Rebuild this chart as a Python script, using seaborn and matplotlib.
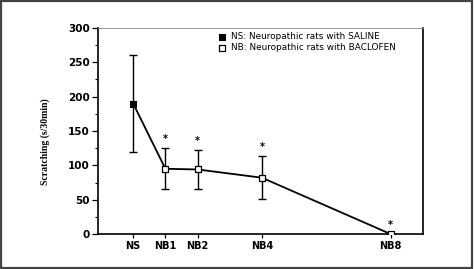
import matplotlib
matplotlib.use("Agg")
import matplotlib.pyplot as plt
import seaborn as sns
import pandas as pd
from matplotlib.patches import Rectangle
from matplotlib.ticker import MultipleLocator

# Data
categories = ["NS", "NB1", "NB2", "NB4", "NB8"]
positions = [0, 1, 2, 4, 8]
groups = ["NS", "NB", "NB", "NB", "NB"]
means = [190, 95, 94, 82, 0]
errors = [71, 30, 29, 31, 0]
significant = [False, True, True, True, True]
legend_labels = {"NS": "NS: Neuropathic rats with SALINE",
                 "NB": "NB: Neuropathic rats with BACLOFEN"}

df = pd.DataFrame({"pos": positions, "mean": means, "err": errors,
                   "group": groups, "cat": categories})

sns.set_theme(style="white")
plt.rcParams["font.family"] = ["DejaVu Sans"]
plt.rcParams["text.color"] = "black"
plt.rcParams["xtick.color"] = "black"
plt.rcParams["ytick.color"] = "black"
plt.rcParams["axes.labelcolor"] = "black"

fig = plt.figure(figsize=(4.74, 2.69), dpi=100)
ax = fig.add_axes([0.207, 0.130, 0.685, 0.766])

# outer frame
fig.patches.append(Rectangle((0.002, 0.002), 0.994, 0.994, transform=fig.transFigure,
                             fill=False, edgecolor="#444444", linewidth=1.6))

sns.lineplot(data=df, x="pos", y="mean", color="black", linewidth=1.3, ax=ax,
             legend=False, zorder=2)
ax.errorbar(df["pos"], df["mean"], yerr=df["err"], fmt="none", ecolor="black",
            elinewidth=1.0, capsize=3, capthick=1.0, zorder=3)

ns = df[df["group"] == "NS"]
nb = df[df["group"] == "NB"]
sns.scatterplot(data=ns, x="pos", y="mean", marker="s", s=22, color="black",
                edgecolor="black", linewidth=0.8, ax=ax, zorder=4,
                label=legend_labels["NS"])
sns.scatterplot(data=nb, x="pos", y="mean", marker="s", s=22, facecolor="white",
                edgecolor="black", linewidth=0.9, ax=ax, zorder=4,
                label=legend_labels["NB"])

for p, m, e, sig in zip(positions, means, errors, significant):
    if sig:
        ax.text(p, m + e + 13, "*", ha="center", va="center", fontsize=7,
                fontweight="bold", color="black")

ax.set_xlim(-1.09, 9.0)
ax.set_ylim(0, 300)
ax.set_xticks(positions)
ax.set_xticklabels(categories, fontsize=7, fontweight="bold")
ax.yaxis.set_major_locator(MultipleLocator(50))
ax.yaxis.set_minor_locator(MultipleLocator(25))
ax.tick_params(axis="y", which="major", direction="out", length=4, width=0.9,
               labelsize=7.5, pad=2, left=True)
ax.tick_params(axis="y", which="minor", direction="out", length=2, width=0.8, left=True)
ax.tick_params(axis="x", which="major", direction="out", length=3, width=0.9,
               pad=2, bottom=True)
for lbl in ax.get_yticklabels():
    lbl.set_fontweight("bold")

ax.set_xlabel("")
ax.set_ylabel("Scratching (s/30min)", fontsize=7, fontweight="bold",
              family="Liberation Serif")
ax.yaxis.set_label_coords(-0.148, 0.447)

for side in ["left", "bottom", "right"]:
    ax.spines[side].set_color("black")
    ax.spines[side].set_linewidth(1.2)
ax.spines["top"].set_color("#888888")
ax.spines["top"].set_linewidth(0.6)

leg = ax.legend(loc="upper right", bbox_to_anchor=(0.935, 1.01), frameon=False,
                fontsize=6.4, handlelength=0.8, handletextpad=0.6,
                labelspacing=0.25, borderaxespad=0.3, markerscale=0.8)

fig.savefig("out.png", dpi=100, facecolor="white")
